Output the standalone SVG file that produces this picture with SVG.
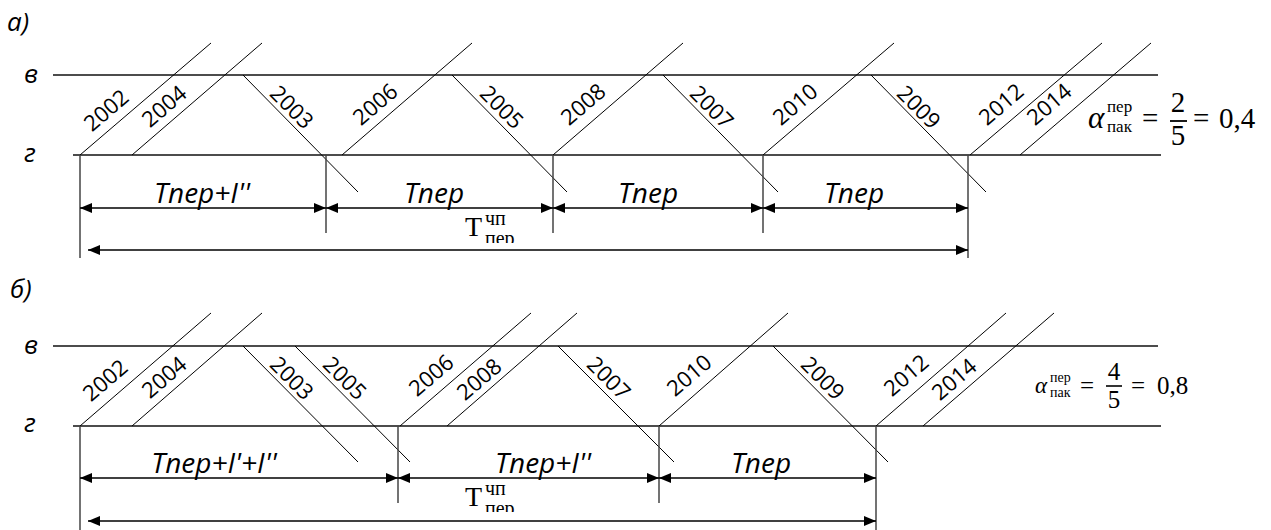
<svg xmlns="http://www.w3.org/2000/svg" width="1271" height="530" viewBox="0 0 1271 530">
<style>
.bg{fill:#fff}
.h{stroke:#111;stroke-width:1.3;fill:none}
.d{stroke:#000;stroke-width:1;fill:none}
.v{stroke:#444;stroke-width:1.5;fill:none}
.dim{stroke:#000;stroke-width:1.3;fill:none;marker-start:url(#ah);marker-end:url(#ah)}
.yr{font-family:"Open Sans","Liberation Sans",sans-serif;font-size:22px;fill:#000;text-anchor:middle}
.lab{font-family:"Open Sans","Liberation Sans",sans-serif;font-style:italic;font-size:26px;fill:#000}
.dl{font-family:"Open Sans","Liberation Sans",sans-serif;font-style:italic;font-size:28px;fill:#000;text-anchor:middle}
.m{font-family:"Liberation Serif","DejaVu Serif",serif;fill:#000}
</style>
<defs>
<marker id="ah" viewBox="0 0 12 10" refX="12" refY="5" markerWidth="12" markerHeight="10" markerUnits="userSpaceOnUse" orient="auto-start-reverse">
<path d="M0,0 L12,5 L0,10 z" fill="#000"/>
</marker>
<clipPath id="clipA"><rect x="440" y="200" width="100" height="43"/></clipPath>
<clipPath id="clipB"><rect x="440" y="470" width="100" height="42"/></clipPath>
</defs>
<rect class="bg" x="0" y="0" width="1271" height="530"/>

<!-- ===== Diagram a ===== -->
<g id="panel-a-label"><text class="lab" x="7" y="31">а)</text></g>
<g id="a-axes">
<line class="h" x1="53" y1="75" x2="1158" y2="75"/>
<line class="h" x1="73" y1="155" x2="1161" y2="155"/>
<text class="lab" x="24" y="83">в</text>
<text class="lab" x="24" y="162">г</text>
</g>
<g id="a-trains">
<line class="d" x1="80" y1="155" x2="211" y2="43"/>
<line class="d" x1="132" y1="155" x2="262" y2="43"/>
<line class="d" x1="342" y1="155" x2="472" y2="43"/>
<line class="d" x1="553" y1="155" x2="683" y2="43"/>
<line class="d" x1="763" y1="155" x2="894" y2="43"/>
<line class="d" x1="970" y1="155" x2="1102" y2="43"/>
<line class="d" x1="1020" y1="155" x2="1151" y2="43"/>
<line class="d" x1="243" y1="75" x2="358" y2="192"/>
<line class="d" x1="452" y1="75" x2="567" y2="192"/>
<line class="d" x1="663" y1="75" x2="778" y2="192"/>
<line class="d" x1="871" y1="75" x2="986" y2="192"/>
<g transform="translate(106,110) rotate(-40.5)"><text class="yr" x="0" y="8">2002</text></g>
<g transform="translate(164,106) rotate(-40.5)"><text class="yr" x="0" y="8">2004</text></g>
<g transform="translate(375,104) rotate(-40.5)"><text class="yr" x="0" y="8">2006</text></g>
<g transform="translate(583,104) rotate(-40.5)"><text class="yr" x="0" y="8">2008</text></g>
<g transform="translate(795,104) rotate(-40.5)"><text class="yr" x="0" y="8">2010</text></g>
<g transform="translate(1001,104) rotate(-40.5)"><text class="yr" x="0" y="8">2012</text></g>
<g transform="translate(1049,104) rotate(-40.5)"><text class="yr" x="0" y="8">2014</text></g>
<g transform="translate(292,107) rotate(45)"><text class="yr" x="0" y="8">2003</text></g>
<g transform="translate(502,107) rotate(45)"><text class="yr" x="0" y="8">2005</text></g>
<g transform="translate(712,107) rotate(45)"><text class="yr" x="0" y="8">2007</text></g>
<g transform="translate(919,107) rotate(45)"><text class="yr" x="0" y="8">2009</text></g>
</g>
<g id="a-dimensions">
<line class="v" x1="80" y1="155" x2="80" y2="258"/>
<line class="v" x1="326" y1="155" x2="326" y2="233"/>
<line class="v" x1="553" y1="155" x2="553" y2="233"/>
<line class="v" x1="763" y1="155" x2="763" y2="233"/>
<line class="v" x1="968" y1="155" x2="968" y2="258"/>
<line class="dim" x1="80" y1="208" x2="326" y2="208"/>
<line class="dim" x1="326" y1="208" x2="553" y2="208"/>
<line class="dim" x1="553" y1="208" x2="763" y2="208"/>
<line class="dim" x1="763" y1="208" x2="968" y2="208"/>
<line class="dim" x1="88" y1="250" x2="968" y2="250"/>
<text class="dl" x="202" y="203">Тпер+I''</text>
<text class="dl" x="434" y="203">Тпер</text>
<text class="dl" x="648" y="203">Тпер</text>
<text class="dl" x="854" y="203">Тпер</text>
<g clip-path="url(#clipA)">
<text class="m" x="465" y="236" font-size="28">Т</text>
<text class="m" x="485" y="225" font-size="20">чп</text>
<text class="m" x="485" y="245" font-size="20">пер</text>
</g>
</g>
<g id="a-formula">
<text class="m" x="1088" y="128" font-size="31" font-style="italic">α</text>
<text class="m" x="1107" y="112" font-size="17">пер</text>
<text class="m" x="1107" y="132" font-size="17">пак</text>
<text class="m" x="1142" y="128" font-size="29">=</text>
<text class="m" x="1178" y="112" font-size="29" text-anchor="middle">2</text>
<line x1="1170" y1="121" x2="1187" y2="121" stroke="#000" stroke-width="1.8"/>
<text class="m" x="1178" y="145" font-size="29" text-anchor="middle">5</text>
<text class="m" x="1193" y="128" font-size="29">=</text>
<text class="m" x="1219" y="128" font-size="29">0,4</text>
</g>

<!-- ===== Diagram b ===== -->
<g id="panel-b-label"><text class="lab" x="10" y="298">б)</text></g>
<g id="b-axes">
<line class="h" x1="53" y1="346" x2="1158" y2="346"/>
<line class="h" x1="73" y1="426" x2="1161" y2="426"/>
<text class="lab" x="24" y="354">в</text>
<text class="lab" x="24" y="432">г</text>
</g>
<g id="b-trains">
<line class="d" x1="80" y1="426" x2="211" y2="313"/>
<line class="d" x1="132" y1="426" x2="262" y2="313"/>
<line class="d" x1="400" y1="426" x2="531" y2="313"/>
<line class="d" x1="447" y1="426" x2="577" y2="313"/>
<line class="d" x1="659" y1="426" x2="788" y2="313"/>
<line class="d" x1="876" y1="426" x2="1006" y2="313"/>
<line class="d" x1="923" y1="426" x2="1054" y2="313"/>
<line class="d" x1="243" y1="346" x2="358" y2="462"/>
<line class="d" x1="295" y1="346" x2="410" y2="462"/>
<line class="d" x1="558" y1="346" x2="674" y2="462"/>
<line class="d" x1="773" y1="346" x2="888" y2="462"/>
<g transform="translate(105,380) rotate(-40.5)"><text class="yr" x="0" y="8">2002</text></g>
<g transform="translate(164,377) rotate(-40.5)"><text class="yr" x="0" y="8">2004</text></g>
<g transform="translate(431,375) rotate(-40.5)"><text class="yr" x="0" y="8">2006</text></g>
<g transform="translate(479,379) rotate(-40.5)"><text class="yr" x="0" y="8">2008</text></g>
<g transform="translate(689,375) rotate(-40.5)"><text class="yr" x="0" y="8">2010</text></g>
<g transform="translate(906,375) rotate(-40.5)"><text class="yr" x="0" y="8">2012</text></g>
<g transform="translate(954,379) rotate(-40.5)"><text class="yr" x="0" y="8">2014</text></g>
<g transform="translate(292,378) rotate(45)"><text class="yr" x="0" y="8">2003</text></g>
<g transform="translate(345,378) rotate(45)"><text class="yr" x="0" y="8">2005</text></g>
<g transform="translate(609,378) rotate(45)"><text class="yr" x="0" y="8">2007</text></g>
<g transform="translate(823,378) rotate(45)"><text class="yr" x="0" y="8">2009</text></g>
</g>
<g id="b-dimensions">
<line class="v" x1="80" y1="426" x2="80" y2="530"/>
<line class="v" x1="398" y1="426" x2="398" y2="503"/>
<line class="v" x1="659" y1="426" x2="659" y2="503"/>
<line class="v" x1="876" y1="426" x2="876" y2="530"/>
<line class="dim" x1="80" y1="478" x2="398" y2="478"/>
<line class="dim" x1="398" y1="478" x2="659" y2="478"/>
<line class="dim" x1="659" y1="478" x2="876" y2="478"/>
<line class="dim" x1="88" y1="521" x2="876" y2="521"/>
<text class="dl" x="214" y="473">Тпер+I'+I''</text>
<text class="dl" x="543" y="473">Тпер+I''</text>
<text class="dl" x="761" y="473">Тпер</text>
<g clip-path="url(#clipB)">
<text class="m" x="465" y="506" font-size="28">Т</text>
<text class="m" x="485" y="495" font-size="20">чп</text>
<text class="m" x="485" y="515" font-size="20">пер</text>
</g>
</g>
<g id="b-formula">
<text class="m" x="1035" y="393" font-size="23" font-style="italic">α</text>
<text class="m" x="1050" y="382" font-size="14">пер</text>
<text class="m" x="1050" y="397" font-size="14">пак</text>
<text class="m" x="1080" y="394" font-size="25">=</text>
<text class="m" x="1114" y="380" font-size="25" text-anchor="middle">4</text>
<line x1="1106" y1="386" x2="1122" y2="386" stroke="#000" stroke-width="1.6"/>
<text class="m" x="1114" y="408" font-size="25" text-anchor="middle">5</text>
<text class="m" x="1131" y="394" font-size="25">=</text>
<text class="m" x="1157" y="394" font-size="25">0,8</text>
</g>
</svg>
